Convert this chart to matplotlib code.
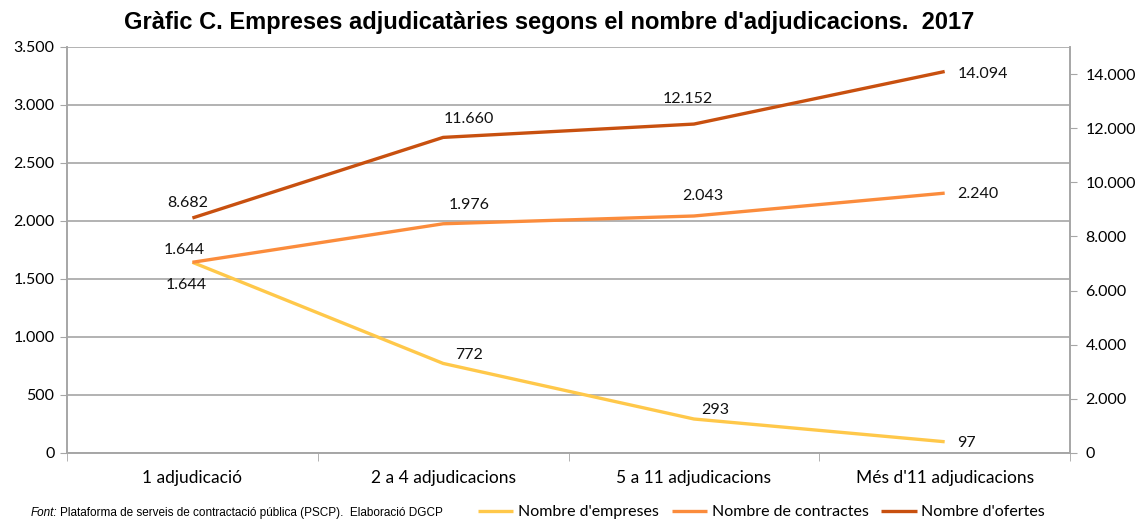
"""
plot.py
Line chart: companies awarded contracts by number of awards (2017), two y axes.
"""

import matplotlib
matplotlib.use('Agg')
import matplotlib.pyplot as plt
from matplotlib.ticker import FuncFormatter, FixedLocator

# ── Data ──────────────────────────────────────────────────────────────────────

categories = ["1 adjudicació", "2 a 4 adjudicacions",
              "5 a 11 adjudicacions", "Més d'11 adjudicacions"]
empreses = [1644, 772, 293, 97]
contractes = [1644, 1976, 2043, 2240]
ofertes = [8682, 11660, 12152, 14094]

# ── Style ─────────────────────────────────────────────────────────────────────

YELLOW = "#FFC84A"
ORANGE = "#FB8C3C"
DARK = "#C8500F"
GRID = "#A6A6A6"
LABEL_FONT = "Lato"

# label offsets in pixels (dx, dy) and horizontal alignment, one per point
emp_offsets = [(-6, -23, 'center'), (26, 8, 'center'), (21, 9, 'center'), (12, -1, 'left')]
con_offsets = [(-8, 12, 'center'), (26, 19, 'center'), (9, 20, 'center'), (13, -1, 'left')]
ofe_offsets = [(-5, 15, 'center'), (26, 18, 'center'), (-6, 25, 'center'), (13, -2, 'left')]


def thousands(v, _pos=None):
    return f"{int(v):,}".replace(",", ".")


fig = plt.figure(figsize=(11.42, 5.22), dpi=100)
ax = fig.add_axes([0.0587, 0.1322, 0.8783, 0.7778])
ax2 = ax.twinx()

x = list(range(len(categories)))

l1, = ax.plot(x, empreses, color=YELLOW, lw=2.4, solid_capstyle='butt', zorder=3)
l2, = ax.plot(x, contractes, color=ORANGE, lw=2.4, solid_capstyle='butt', zorder=4)
l3, = ax2.plot(x, ofertes, color=DARK, lw=2.4, solid_capstyle='butt', zorder=5)


def put_labels(axis, values, offsets):
    for xi, v, (dx, dy, ha) in zip(x, values, offsets):
        axis.annotate(thousands(v), (xi, v), xytext=(dx, dy),
                      textcoords='offset pixels', ha=ha, va='center',
                      fontsize=11.5, family=LABEL_FONT, color='#111111')


put_labels(ax, empreses, emp_offsets)
put_labels(ax, contractes, con_offsets)
put_labels(ax2, ofertes, ofe_offsets)

# ── Axes ──────────────────────────────────────────────────────────────────────

ax.set_xlim(-0.5, len(categories) - 0.5)
ax.set_ylim(0, 3500)
ax.set_yticks(range(0, 3501, 500))
ax.yaxis.set_major_formatter(FuncFormatter(thousands))
ax2.set_ylim(0, 15000)
ax2.set_yticks(range(0, 14001, 2000))
ax2.yaxis.set_major_formatter(FuncFormatter(thousands))

ax.set_xticks(x)
ax.set_xticklabels(categories, fontsize=12.5, family=LABEL_FONT)
ax.xaxis.set_minor_locator(FixedLocator([i - 0.5 for i in range(len(categories) + 1)]))
ax.tick_params(axis='x', which='major', length=0, pad=12)
ax.tick_params(axis='x', which='minor', length=6, color=GRID, direction='out')

ax.tick_params(axis='y', length=5, color=GRID, labelsize=11.5, pad=4)
ax2.tick_params(axis='y', length=5, color=GRID, labelsize=11.5, pad=6)
for lab in ax.get_yticklabels() + ax2.get_yticklabels():
    lab.set_family(LABEL_FONT)

ax.grid(axis='y', color=GRID, lw=1.2)
ax.set_axisbelow(True)
for a in (ax, ax2):
    a.spines['top'].set_visible(False)
    for s in ('left', 'right', 'bottom'):
        a.spines[s].set_color(GRID)
        a.spines[s].set_linewidth(1.2)

# ── Title, legend, source ─────────────────────────────────────────────────────

fig.text(0.481, 0.957, "Gràfic C. Empreses adjudicatàries segons el nombre d'adjudicacions.  2017",
         ha='center', va='center', fontsize=17, fontweight='bold',
         family='Liberation Sans')

fig.legend([l1, l2, l3], ["Nombre d'empreses", "Nombre de contractes", "Nombre d'ofertes"],
           loc='center', bbox_to_anchor=(0.667, 0.019), ncol=3, frameon=False,
           handlelength=2.2, handletextpad=0.3, columnspacing=0.8,
           prop={'family': LABEL_FONT, 'size': 11.5})

src_label = fig.text(0.027, 0.006, "Font:", ha='left', va='bottom', fontsize=8.5,
                     style='italic', family='Liberation Sans')
fig.canvas.draw()
bb = src_label.get_window_extent().transformed(fig.transFigure.inverted())
fig.text(bb.x1 + 0.002, 0.006,
         "Plataforma de serveis de contractació pública (PSCP).  Elaboració DGCP",
         ha='left', va='bottom', fontsize=8.5, family='Liberation Sans')

fig.savefig("out.png", dpi=100, facecolor='white')
